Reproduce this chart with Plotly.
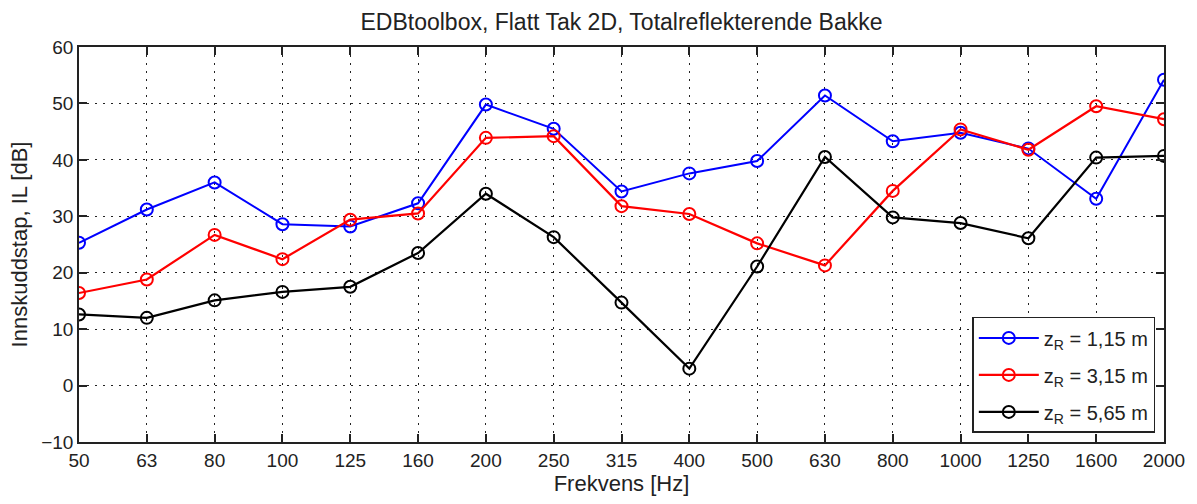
import plotly.graph_objects as go

freqs = ["50", "63", "80", "100", "125", "160", "200", "250", "315", "400",
         "500", "630", "800", "1000", "1250", "1600", "2000"]
zr_115 = [25.3, 31.2, 36.0, 28.6, 28.2, 32.3, 49.8, 45.5, 34.4, 37.6,
          39.8, 51.4, 43.3, 44.8, 42.0, 33.1, 54.2]
zr_315 = [16.4, 18.8, 26.7, 22.4, 29.4, 30.5, 43.9, 44.2, 31.8, 30.4,
          25.2, 21.3, 34.5, 45.4, 41.8, 49.5, 47.2]
zr_565 = [12.6, 12.0, 15.1, 16.6, 17.5, 23.5, 34.0, 26.3, 14.7, 3.0,
          21.1, 40.5, 29.8, 28.8, 26.1, 40.4, 40.7]
y_ticks = [-10, 0, 10, 20, 30, 40, 50, 60]

series = [
    ("z<sub>R</sub> = 1,15 m", zr_115, "#0000ff", 2.0),
    ("z<sub>R</sub> = 3,15 m", zr_315, "#ff0000", 2.2),
    ("z<sub>R</sub> = 5,65 m", zr_565, "#000000", 2.2),
]

fig = go.Figure()
for i, (name, vals, color, w) in enumerate(series):
    fig.add_trace(go.Scatter(
        x=freqs, y=vals, name=name, mode="lines+markers", legendgroup=f"g{i}",
        line=dict(color=color, width=w),
        marker=dict(symbol="circle-open", size=12, color=color, line=dict(width=2, color=color)),
    ))

font = "Liberation Sans, Arial, sans-serif"
axis_common = dict(
    showline=True, linecolor="#222222", linewidth=1.5, mirror="ticks",
    ticks="inside", ticklen=8, tickwidth=1.5, tickcolor="#222222",
    showgrid=True, gridcolor="#222222", gridwidth=1, griddash="2px,6px",
    zeroline=False, tickfont=dict(size=19, color="#222222", family=font),
)
fig.update_layout(
    width=1197, height=504,
    margin=dict(l=79, r=28, t=47, b=60),
    paper_bgcolor="white", plot_bgcolor="white",
    font=dict(family=font, color="#222222"),
    title=dict(text="EDBtoolbox, Flatt Tak 2D, Totalreflekterende Bakke",
               x=0.5, xref="paper", xanchor="center", y=0.956, yanchor="middle",
               font=dict(size=23, color="#222222", family=font)),
    xaxis=dict(type="category", range=[0, len(freqs) - 1],
               title=dict(text="Frekvens [Hz]", font=dict(size=22), standoff=6),
               **axis_common),
    yaxis=dict(range=[-10, 60], tickvals=y_ticks,
               title=dict(text="Innskuddstap, IL [dB]", font=dict(size=22), standoff=8),
               **axis_common),
    legend=dict(x=0.992, y=0.023, xanchor="right", yanchor="bottom",
                bordercolor="#222222", borderwidth=1.5, bgcolor="white",
                font=dict(size=20, family=font), tracegroupgap=8,
                itemwidth=60),
    showlegend=True,
)
fig.write_html("out.html")
